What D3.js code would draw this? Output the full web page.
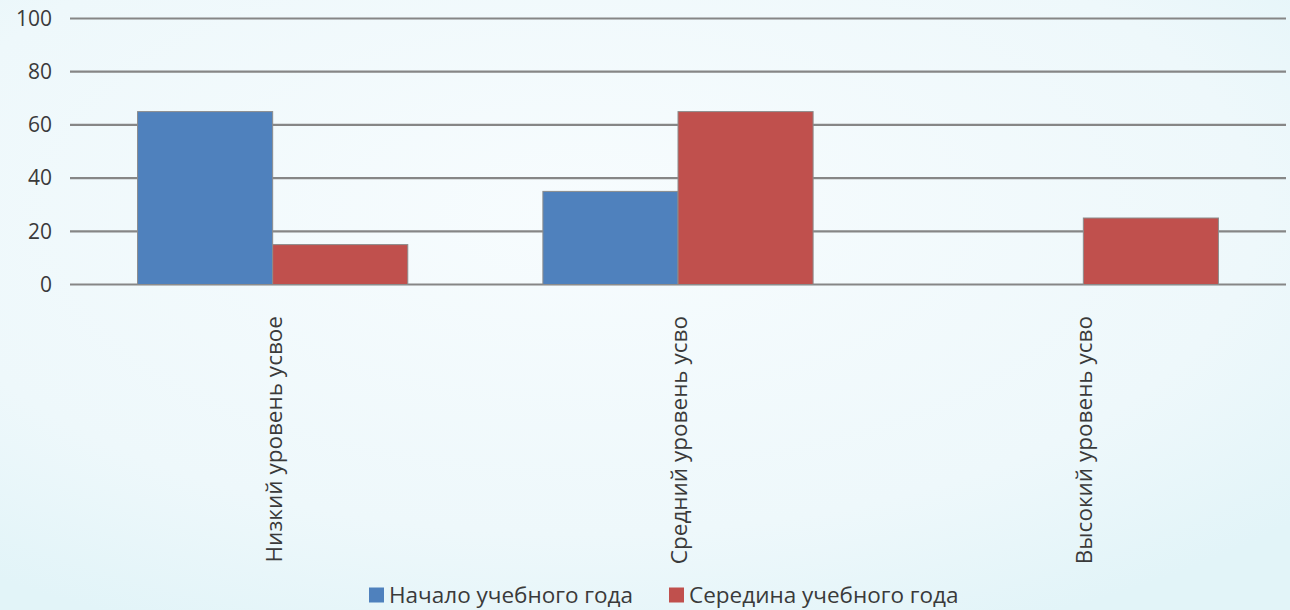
<!DOCTYPE html>
<html>
<head>
<meta charset="utf-8">
<script src="https://cdn.jsdelivr.net/npm/d3@7"></script>
<style>
  body { margin: 0; }
  svg { display: block; font-family: "Open Sans", "DejaVu Sans", sans-serif; }
</style>
</head>
<body>
<script>
const categories = ['Низкий уровень усвое', 'Средний уровень усво', 'Высокий уровень усво'];
const seriesNames = ['Начало учебного года', 'Середина учебного года'];
const startValues = [65, 35, 0];
const middleValues = [15, 65, 25];
const yTicks = [0, 20, 40, 60, 80, 100];
const colors = ['#4f81bd', '#c0504d'];

const width = 1290, height = 610;
const margin = { left: 70, right: 4, top: 18.5, bottom: 325.5 };

const svg = d3.select('body').append('svg').attr('width', width).attr('height', height);

// pale background
const defs = svg.append('defs');
const grad = defs.append('radialGradient').attr('id', 'bg').attr('cx', '45%').attr('cy', '35%').attr('r', '75%');
grad.append('stop').attr('offset', '0%').attr('stop-color', '#f7fcfe');
grad.append('stop').attr('offset', '70%').attr('stop-color', '#eef8fb');
grad.append('stop').attr('offset', '100%').attr('stop-color', '#e2f4f8');
svg.append('rect').attr('width', width).attr('height', height).attr('fill', 'url(#bg)');

const x0 = d3.scaleBand()
    .domain(categories)
    .range([margin.left, width - margin.right])
    .paddingInner(1 / 3)
    .paddingOuter(1 / 6);

const x1 = d3.scaleBand()
    .domain(seriesNames)
    .range([0, x0.bandwidth()]);

const y = d3.scaleLinear()
    .domain([0, 100])
    .range([height - margin.bottom, margin.top]);

// gridlines
svg.append('g')
  .selectAll('line')
  .data(yTicks)
  .join('line')
    .attr('x1', margin.left).attr('x2', width - margin.right)
    .attr('y1', d => y(d)).attr('y2', d => y(d))
    .attr('stroke', '#868686').attr('stroke-width', 2.2);

// y labels
svg.append('g')
  .selectAll('text')
  .data(yTicks)
  .join('text')
    .attr('x', 52).attr('y', d => y(d))
    .attr('dy', '0.35em')
    .attr('text-anchor', 'end')
    .attr('font-size', 21)
    .attr('fill', '#3a3a3a')
    .text(d => d);

const rows = categories.map((c, i) => ({ cat: c, vals: [startValues[i], middleValues[i]] }));

const groups = svg.append('g')
  .selectAll('g')
  .data(rows)
  .join('g')
    .attr('transform', d => 'translate(' + x0(d.cat) + ',0)');

groups.selectAll('rect')
  .data(d => d.vals.map((v, j) => ({ name: seriesNames[j], v: v, j: j })).filter(d => d.v > 0))
  .join('rect')
    .attr('x', d => x1(d.name))
    .attr('y', d => y(d.v))
    .attr('width', x1.bandwidth())
    .attr('height', d => y(0) - y(d.v))
    .attr('fill', d => colors[d.j])
    .attr('stroke', '#8c8c8c')
    .attr('stroke-width', 1);

// category labels, rotated
svg.append('g')
  .selectAll('text')
  .data(categories)
  .join('text')
    .attr('transform', d => 'translate(' + (x0(d) + x0.bandwidth() / 2 + 1) + ',316) rotate(-90)')
    .attr('dy', '0.35em')
    .attr('text-anchor', 'end')
    .attr('font-size', 22.5)
    .attr('fill', '#3a3a3a')
    .text(d => d);

// legend
const legendX = [369, 669];
const legend = svg.append('g')
  .selectAll('g')
  .data(seriesNames)
  .join('g')
    .attr('transform', (d, i) => 'translate(' + legendX[i] + ',595)');
legend.append('rect')
    .attr('x', 0).attr('y', -7.5).attr('width', 15).attr('height', 15)
    .attr('fill', (d, i) => colors[i]);
legend.append('text')
    .attr('x', 20).attr('dy', '0.35em')
    .attr('font-size', 22.5)
    .attr('fill', '#3a3a3a')
    .text(d => d);
</script>
</body>
</html>
